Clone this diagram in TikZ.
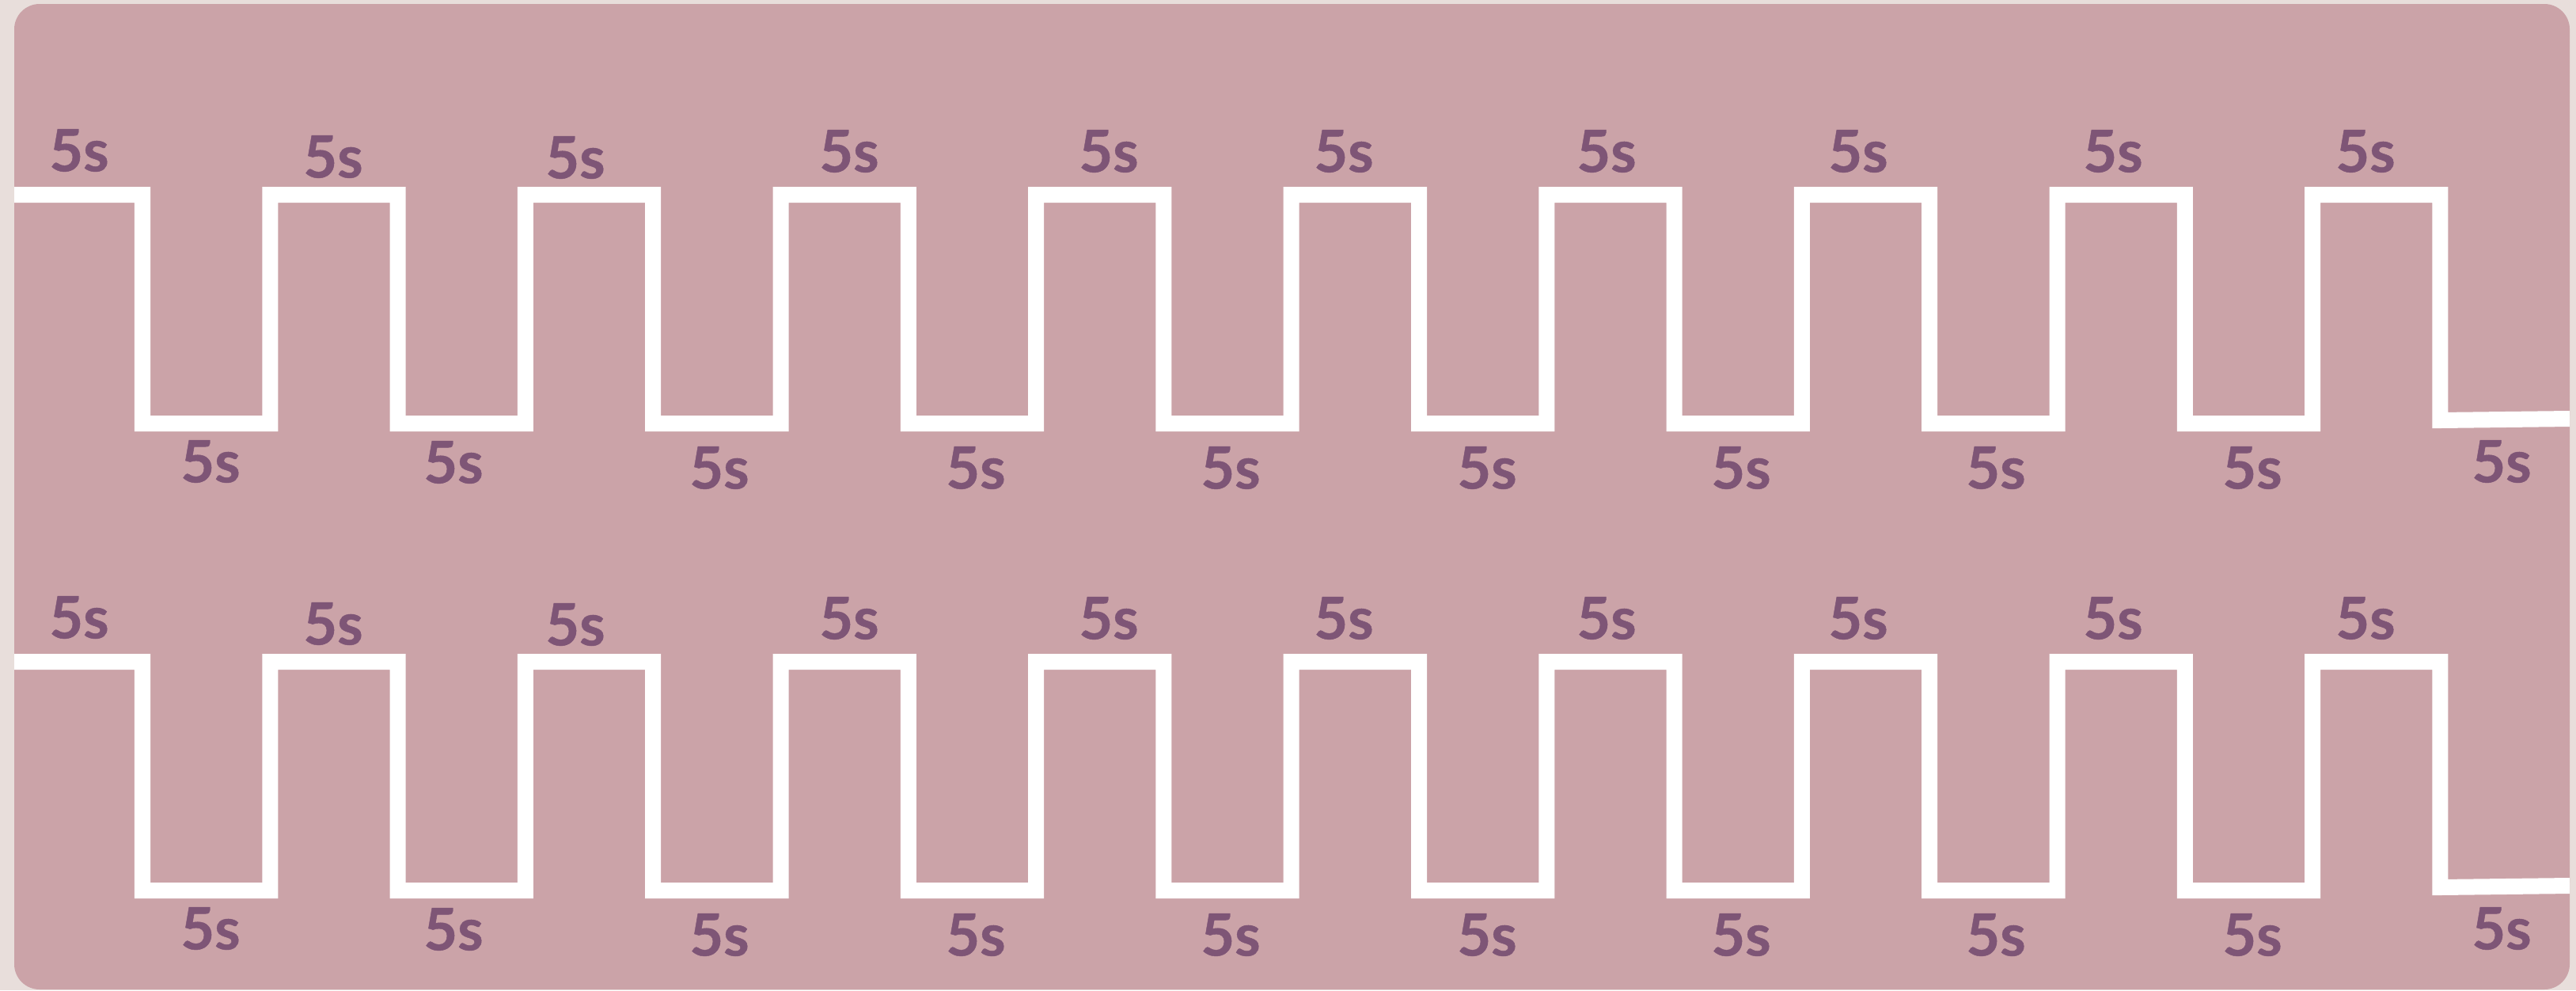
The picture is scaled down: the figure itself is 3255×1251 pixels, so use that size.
\documentclass[tikz,border=0pt]{standalone}
\usepackage{fontspec}
\setmainfont{Lato}
\newfontfamily\labfont{Lato}[BoldFeatures={FakeBold=0.6}]
\definecolor{outerbg}{HTML}{E8DEDB}
\definecolor{panel}{HTML}{CBA3A8}
\definecolor{lbl}{HTML}{7E5576}
\tikzset{
  wave/.style={draw=white, line width=0.2cm, line join=miter, line cap=butt},
  lab/.style={text=lbl, font=\labfont\fontsize{21}{25}\selectfont\bfseries, inner sep=0pt}
}
\begin{document}
\begin{tikzpicture}[x=0.01cm,y=-0.01cm]
\useasboundingbox (0,0) rectangle (3255,1251);
\fill[outerbg] (0,0) rectangle (3255,1251);
\fill[panel, rounded corners=0.32cm] (18,5) rectangle (3247,1250);
% waves
\foreach \oy/\nm in {0/t,590/b}{
  \draw[wave] (18,246+\oy)
    \foreach \i in {0,...,8}{
      -- ({180+322.6*\i},246+\oy) -- ({180+322.6*\i},535+\oy)
      -- ({341.3+322.6*\i},535+\oy) -- ({341.3+322.6*\i},246+\oy)
    }
    -- (3083.4,246+\oy) -- (3083.4,531+\oy) -- (3247,529+\oy);
  % upper labels
  \foreach \x/\y [count=\k] in {100/190,421/198,727/199,1073/191,1401/191,1698/191,2030/191,2348/191,2670/191,2989/191}{
    \node[lab] (\nm u\k) at (\x,\y+\oy) {5s};
  }
  % lower labels
  \foreach \x/\y [count=\k] in {266/583,573/584,909/591,1233/591,1555/591,1879/591,2200/591,2522/591,2846/591,3161/583}{
    \node[lab] (\nm l\k) at (\x,\y+\oy) {5s};
  }
}
\end{tikzpicture}
\end{document}
